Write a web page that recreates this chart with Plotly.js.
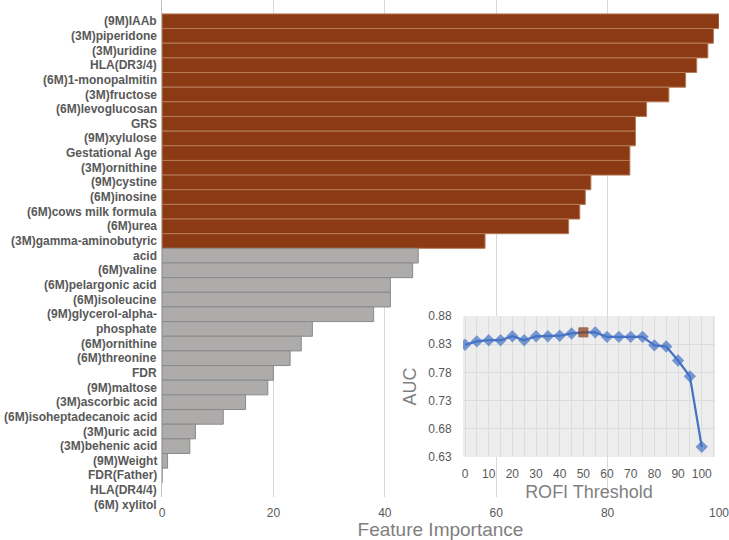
<!DOCTYPE html>
<html>
<head>
<meta charset="utf-8">
<script src="https://cdn.plot.ly/plotly-3.0.1.min.js"></script>
<style>
  html, body { margin: 0; padding: 0; background: #ffffff; }
  #chart { width: 729px; height: 540px; }
</style>
</head>
<body>
<div id="chart"></div>
<script>
// ---- data ----
const categories = [
  '(9M)IAAb', '(3M)piperidone', '(3M)uridine', 'HLA(DR3/4)', '(6M)1-monopalmitin',
  '(3M)fructose', '(6M)levoglucosan', 'GRS', '(9M)xylulose', 'Gestational Age',
  '(3M)ornithine', '(9M)cystine', '(6M)inosine', '(6M)cows milk formula', '(6M)urea',
  '(3M)gamma-aminobutyric acid', '(6M)valine', '(6M)pelargonic acid', '(6M)isoleucine',
  '(9M)glycerol-alpha-phosphate', '(6M)ornithine', '(6M)threonine', 'FDR', '(9M)maltose',
  '(3M)ascorbic acid', '(6M)isoheptadecanoic acid', '(3M)uric acid', '(3M)behenic acid',
  '(9M)Weight', 'FDR(Father)', 'HLA(DR4/4)', '(6M) xylitol'
];
const importance = [
  100, 99, 98, 96, 94, 91, 87, 85, 85, 84, 84, 77, 76, 75, 73, 58,
  46, 45, 41, 41, 38, 27, 25, 23, 20, 19, 15, 11, 6, 5, 1, 0
];
const selectedCount = 16;   // features kept at the optimal ROFI threshold

// tick label lines as they appear beside the bars (wrapped labels take two lines)
const tickLabels = [
  '(9M)IAAb', '(3M)piperidone', '(3M)uridine', 'HLA(DR3/4)', '(6M)1-monopalmitin',
  '(3M)fructose', '(6M)levoglucosan', 'GRS', '(9M)xylulose', 'Gestational Age',
  '(3M)ornithine', '(9M)cystine', '(6M)inosine', '(6M)cows milk formula', '(6M)urea',
  '(3M)gamma-aminobutyric', 'acid', '(6M)valine', '(6M)pelargonic acid', '(6M)isoleucine',
  '(9M)glycerol-alpha-', 'phosphate', '(6M)ornithine', '(6M)threonine', 'FDR',
  '(9M)maltose', '(3M)ascorbic acid', '(6M)isoheptadecanoic acid', '(3M)uric acid',
  '(3M)behenic acid', '(9M)Weight', 'FDR(Father)', 'HLA(DR4/4)', '(6M) xylitol'
];
const importanceTicks = [0, 20, 40, 60, 80, 100];

const rofiThreshold = [0, 5, 10, 15, 20, 25, 30, 35, 40, 45, 50, 55, 60, 65, 70, 75, 80, 85, 90, 95, 100];
const auc = [0.829, 0.835, 0.837, 0.837, 0.844, 0.837, 0.844, 0.844, 0.845, 0.849, 0.851,
             0.851, 0.843, 0.843, 0.843, 0.843, 0.828, 0.826, 0.801, 0.773, 0.648];
const optimalThreshold = 50;
const rofiTicks = [0, 10, 20, 30, 40, 50, 60, 70, 80, 90, 100];
const aucTicks = [0.63, 0.68, 0.73, 0.78, 0.83, 0.88];

// ---- styles ----
const BROWN = '#8B3A13', BROWN_EDGE = '#B57B57';
const GREY = '#AEABAB', GREY_EDGE = '#8A8A8A';
const BLUE = '#4472C4';
const FONT = 'Liberation Sans, Arial, sans-serif';
const Y_RANGE = [32.47, -1.45];
const ROW_PX = 14.65;

const barColors = importance.map((v, i) => i < selectedCount ? BROWN : GREY);
const barEdges = importance.map((v, i) => i < selectedCount ? BROWN_EDGE : GREY_EDGE);

const bars = {
  type: 'bar', orientation: 'h',
  x: importance,
  y: categories.map((c, i) => i),
  text: categories, hoverinfo: 'text+x', textposition: 'none',
  width: 1,
  marker: { color: barColors, line: { color: barEdges, width: 1 } },
  xaxis: 'x', yaxis: 'y', showlegend: false
};

const isOpt = t => t === optimalThreshold;
const aucLine = {
  type: 'scatter', mode: 'lines+markers',
  x: rofiThreshold, y: auc,
  line: { color: BLUE, width: 2.25 },
  marker: {
    symbol: rofiThreshold.map(t => isOpt(t) ? 'square' : 'diamond'),
    size: rofiThreshold.map(t => isOpt(t) ? 9 : 9.5),
    color: rofiThreshold.map(t => isOpt(t) ? BROWN : BLUE),
    line: { width: rofiThreshold.map(t => isOpt(t) ? 1 : 0), color: '#6b2a0c' }
  },
  xaxis: 'x2', yaxis: 'y2', showlegend: false, hoverinfo: 'x+y'
};

const lastRow = Math.floor(Y_RANGE[0]);
const labelAnnotations = tickLabels.map((t, k) => {
  const yPos = Math.min(k, lastRow);
  return {
    text: t, xref: 'paper', x: 0, xanchor: 'right', xshift: -3,
    yref: 'y', y: yPos, yshift: -(k - yPos) * ROW_PX, yanchor: 'middle',
    showarrow: false,
    font: { family: FONT, size: 12, color: '#595959', weight: 'bold' }
  };
});

const layout = {
  width: 729, height: 540,
  margin: { l: 162, r: 10, t: 0, b: 43 },
  paper_bgcolor: '#ffffff',
  plot_bgcolor: '#EDEDED',
  font: { family: FONT, color: '#595959' },
  bargap: 0,
  xaxis: {
    domain: [0, 1], anchor: 'y',
    range: [0, 100], tickvals: importanceTicks,
    showgrid: true, gridcolor: '#D9D9D9', gridwidth: 1, zeroline: false,
    showline: false, ticklabeloverflow: 'allow',
    ticks: 'outside', ticklen: 5, tickcolor: 'rgba(0,0,0,0)',
    tickfont: { family: FONT, size: 12, color: '#595959' },
    title: { text: 'Feature Importance', standoff: 0,
             font: { family: FONT, size: 19, color: '#7F7F7F' } }
  },
  yaxis: {
    domain: [0, 1], anchor: 'x',
    range: Y_RANGE,
    showticklabels: false, showgrid: false, zeroline: false,
    showline: true, linecolor: '#BFBFBF', linewidth: 1, ticks: ''
  },
  xaxis2: {
    domain: [0.5404, 0.9928], anchor: 'y2',
    range: [-0.85, 105.6], tickvals: rofiTicks,
    showgrid: true, gridcolor: '#DCDCDC', gridwidth: 1, zeroline: false,
    minor: { dtick: 5, tick0: 0, showgrid: true, gridcolor: '#DCDCDC', gridwidth: 1 },
    ticks: 'outside', ticklen: 6, tickcolor: 'rgba(0,0,0,0)',
    tickfont: { family: FONT, size: 12, color: '#595959' },
    title: { text: 'ROFI Threshold', standoff: 5,
             font: { family: FONT, size: 18, color: '#7F7F7F' } }
  },
  yaxis2: {
    domain: [0.0805, 0.3642], anchor: 'x2',
    range: [0.63, 0.88], tickvals: aucTicks, tickformat: '.2f',
    showgrid: true, gridcolor: '#DCDCDC', gridwidth: 1, zeroline: false,
    ticks: 'outside', ticklen: 8, tickcolor: 'rgba(0,0,0,0)',
    tickfont: { family: FONT, size: 12, color: '#595959' },
    title: { text: 'AUC', standoff: 6,
             font: { family: FONT, size: 18, color: '#7F7F7F' } }
  },
  shapes: [{
    type: 'rect', xref: 'x domain', yref: 'y domain',
    x0: 0, x1: 1, y0: 0, y1: 1,
    fillcolor: '#ffffff', line: { width: 0 }, layer: 'below'
  }],
  annotations: labelAnnotations
};

Plotly.newPlot('chart', [bars, aucLine], layout, { displayModeBar: false, staticPlot: true });
</script>
</body>
</html>
